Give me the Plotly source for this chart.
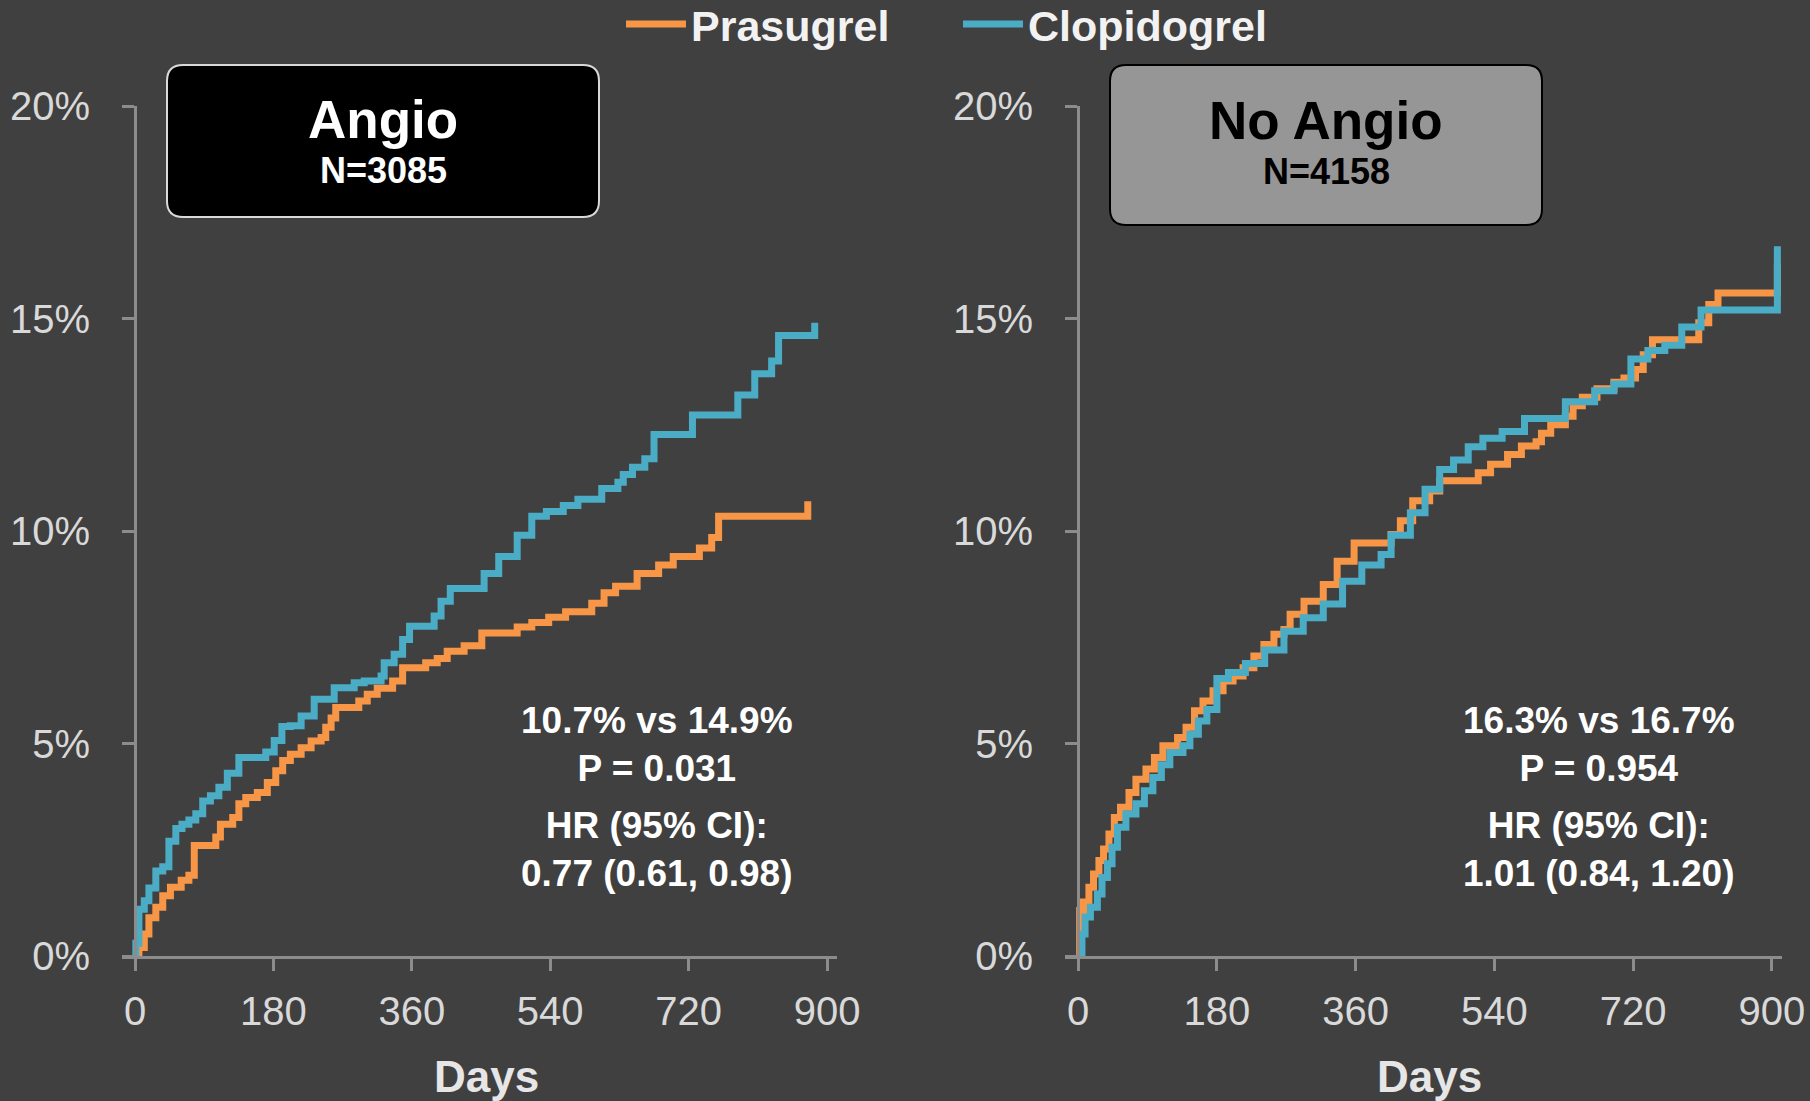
import plotly.graph_objects as go

# ---------------- data ----------------
x_ticks = [0, 180, 360, 540, 720, 900]
y_ticks = [0, 5, 10, 15, 20]
y_ticklabels = ["0%", "5%", "10%", "15%", "20%"]

# Angio panel
angio_pras_days = [0, 5, 12, 18, 27, 36, 46, 60, 70, 77, 105, 111, 127, 135, 144, 159, 172, 183, 192, 202,
                   216, 229, 242, 248, 255, 261, 291, 302, 315, 335, 348, 378, 393, 406, 428, 451, 497, 516,
                   538, 560, 594, 610, 625, 653, 681, 700, 734, 750, 759, 875]
angio_pras_pct = [0, 0.2, 0.52, 0.9, 1.15, 1.42, 1.62, 1.78, 1.9, 2.6, 2.8, 3.1, 3.26, 3.58, 3.73, 3.85, 4.08,
                  4.36, 4.6, 4.75, 4.9, 5.06, 5.14, 5.38, 5.6, 5.85, 6.0, 6.16, 6.3, 6.47, 6.78, 6.9, 7.0, 7.17,
                  7.3, 7.6, 7.74, 7.85, 7.97, 8.1, 8.3, 8.55, 8.7, 9.0, 9.2, 9.4, 9.6, 9.85, 10.35, 10.7]

angio_clop_days = [0, 1, 5, 12, 18, 27, 36, 44, 53, 61, 70, 79, 88, 98, 109, 120, 135, 170, 181, 191, 202,
                   216, 233, 259, 285, 298, 320, 324, 337, 348, 357, 389, 398, 410, 454, 473, 497, 516, 535,
                   557, 576, 607, 628, 635, 647, 663, 675, 725, 784, 806, 828, 837, 884]
angio_clop_pct = [0, 0.3, 1.1, 1.3, 1.6, 2.0, 2.1, 2.7, 3.0, 3.1, 3.2, 3.35, 3.65, 3.77, 3.97, 4.3, 4.67, 4.8,
                  5.07, 5.4, 5.42, 5.65, 6.04, 6.31, 6.43, 6.47, 6.59, 6.9, 7.1, 7.45, 7.76, 8.0, 8.35, 8.65,
                  9.0, 9.4, 9.9, 10.35, 10.46, 10.6, 10.75, 11.0, 11.15, 11.33, 11.5, 11.7, 12.27, 12.73, 13.2,
                  13.7, 14.0, 14.6, 14.9]

# No Angio panel
noangio_pras_days = [0, 2, 7, 14, 20, 27, 33, 40, 47, 55, 66, 75, 88, 99, 110, 129, 140, 151, 162, 175, 188,
                     201, 214, 228, 241, 254, 267, 275, 293, 318, 336, 358, 406, 418, 434, 456, 469, 519, 535,
                     557, 575, 594, 601, 613, 632, 642, 654, 673, 695, 708, 723, 733, 745, 805, 818, 830, 907]
noangio_pras_pct = [0, 1.07, 1.27, 1.62, 1.93, 2.25, 2.52, 2.87, 3.26, 3.5, 3.85, 4.16, 4.4, 4.67, 4.95, 5.14,
                    5.38, 5.77, 6.0, 6.24, 6.47, 6.59, 6.78, 7.06, 7.33, 7.57, 7.68, 8.04, 8.35, 8.74, 9.29,
                    9.72, 9.92, 10.24, 10.71, 10.94, 11.18, 11.37, 11.57, 11.8, 12.0, 12.1, 12.3, 12.5, 12.7,
                    12.95, 13.15, 13.35, 13.5, 13.6, 13.8, 14.15, 14.5, 14.9, 15.33, 15.6, 16.3]

noangio_clop_days = [0, 5, 9, 16, 25, 31, 38, 44, 51, 62, 75, 86, 97, 108, 119, 136, 145, 156, 167, 180, 195,
                     217, 242, 267, 292, 318, 343, 368, 393, 406, 431, 450, 469, 487, 506, 525, 550, 579, 632,
                     670, 695, 717, 739, 761, 783, 808, 907]
noangio_clop_pct = [0, 0.52, 0.92, 1.15, 1.46, 1.85, 2.17, 2.56, 3.03, 3.34, 3.58, 3.89, 4.2, 4.5, 4.79, 4.95,
                    5.22, 5.53, 5.8, 6.53, 6.67, 6.88, 7.2, 7.64, 7.96, 8.28, 8.82, 9.2, 9.45, 9.9, 10.43,
                    10.98, 11.45, 11.67, 11.98, 12.18, 12.34, 12.65, 13.04, 13.3, 13.46, 14.05, 14.25, 14.37,
                    14.8, 15.2, 16.7]

panel_titles = ["Angio", "No Angio"]
panel_n = ["N=3085", "N=4158"]
stats_top = ["10.7% vs 14.9%<br>P = 0.031", "16.3% vs 16.7%<br>P = 0.954"]
stats_hr = ["HR (95% CI):<br>0.77 (0.61, 0.98)", "HR (95% CI):<br>1.01 (0.84, 1.20)"]
series_names = ["Prasugrel", "Clopidogrel"]

# ---------------- style ----------------
W, H = 1810, 1101
BG = "#404040"
ORANGE = "#F79646"
BLUE = "#4BACC6"
AXIS = "#8C8C8C"
TICKTXT = "#D9D9D9"
FONT = "Liberation Sans, Arial, Helvetica, sans-serif"
XR = [-17, 913]
YR = [0, 20]
LINE_W = 7

def px_x(x):
    return x / W

def px_y(y):
    return 1 - y / H

dom_x = [[px_x(122), px_x(837)], [px_x(1065), px_x(1782)]]
dom_y = [px_y(956), px_y(106)]

fig = go.Figure()

data = [
    [(angio_pras_days, angio_pras_pct), (angio_clop_days, angio_clop_pct)],
    [(noangio_pras_days, noangio_pras_pct), (noangio_clop_days, noangio_clop_pct)],
]
colors = [ORANGE, BLUE]

for p in range(2):
    xa = "x" if p == 0 else "x2"
    ya = "y" if p == 0 else "y2"
    for s in range(2):
        d, v = data[p][s]
        fig.add_trace(go.Scatter(
            x=d, y=v, mode="lines", line=dict(color=colors[s], width=LINE_W, shape="hv"),
            name=series_names[s], showlegend=(p == 0), xaxis=xa, yaxis=ya,
            hoverinfo="skip"))

def xaxis_cfg(p):
    return dict(domain=dom_x[p], range=XR, showline=True, linecolor=AXIS, linewidth=3,
                ticks="outside", ticklen=12, tickwidth=3, tickcolor=AXIS,
                tickvals=x_ticks, ticktext=[str(t) for t in x_ticks],
                tickfont=dict(family=FONT, size=40, color=TICKTXT),
                ticklabelstandoff=6, automargin=False,
                showgrid=False, zeroline=False, anchor="y" if p == 0 else "y2", fixedrange=True)

def yaxis_cfg(p):
    pos = dom_x[p][0] + (0 - XR[0]) / (XR[1] - XR[0]) * (dom_x[p][1] - dom_x[p][0])
    return dict(domain=dom_y, range=YR, anchor="free", position=pos,
                showline=True, linecolor=AXIS, linewidth=3,
                ticks="outside", ticklen=12, tickwidth=3, tickcolor=AXIS,
                tickvals=y_ticks, ticktext=y_ticklabels,
                tickfont=dict(family=FONT, size=40, color=TICKTXT),
                ticklabelstandoff=24, automargin=False,
                showgrid=False, zeroline=False, fixedrange=True)

def rounded_path(x0, y0, x1, y1, r):
    rx, ry = r / W, r / H
    X0, X1 = px_x(x0), px_x(x1)
    Y0, Y1 = px_y(y0), px_y(y1)  # Y0 top, Y1 bottom
    return (f"M {X0+rx},{Y0} L {X1-rx},{Y0} Q {X1},{Y0} {X1},{Y0-ry} "
            f"L {X1},{Y1+ry} Q {X1},{Y1} {X1-rx},{Y1} "
            f"L {X0+rx},{Y1} Q {X0},{Y1} {X0},{Y1+ry} "
            f"L {X0},{Y0-ry} Q {X0},{Y0} {X0+rx},{Y0} Z")

boxes = [
    dict(x0=167, y0=65, x1=599, y1=217, fill="#000000", border="#D9D9D9", text="#FFFFFF"),
    dict(x0=1110, y0=65, x1=1542, y1=225, fill="#969696", border="#000000", text="#000000"),
]

shapes = []
annotations = []
for p, b in enumerate(boxes):
    shapes.append(dict(type="path", xref="paper", yref="paper",
                       path=rounded_path(b["x0"], b["y0"], b["x1"], b["y1"], 16),
                       fillcolor=b["fill"], line=dict(color=b["border"], width=2), layer="above"))
    cx = (b["x0"] + b["x1"]) / 2
    annotations.append(dict(text=f"<b>{panel_titles[p]}</b>", x=px_x(cx), y=px_y(120 if p else 119),
                            xref="paper", yref="paper", showarrow=False, xanchor="center", yanchor="middle",
                            font=dict(family=FONT, size=53, color=b["text"])))
    annotations.append(dict(text=f"<b>{panel_n[p]}</b>", x=px_x(cx), y=px_y(172 if p else 171),
                            xref="paper", yref="paper", showarrow=False, xanchor="center", yanchor="middle",
                            font=dict(family=FONT, size=36, color=b["text"])))

stat_cx = [657, 1599]
for p in range(2):
    annotations.append(dict(text=f"<b>{stats_top[p]}</b>", x=px_x(stat_cx[p]), y=px_y(744),
                            xref="paper", yref="paper", showarrow=False, xanchor="center", yanchor="middle",
                            align="center", font=dict(family=FONT, size=37, color="#FFFFFF")))
    annotations.append(dict(text=f"<b>{stats_hr[p]}</b>", x=px_x(stat_cx[p]), y=px_y(849),
                            xref="paper", yref="paper", showarrow=False, xanchor="center", yanchor="middle",
                            align="center", font=dict(family=FONT, size=37, color="#FFFFFF")))

days_cx = [486, 1429]
for p in range(2):
    annotations.append(dict(text="<b>Days</b>", x=px_x(days_cx[p]), y=px_y(1076),
                            xref="paper", yref="paper", showarrow=False, xanchor="center", yanchor="middle",
                            font=dict(family=FONT, size=44, color="#E6E6E6")))

fig.update_layout(
    width=W, height=H, autosize=False,
    margin=dict(l=0, r=0, t=0, b=0, pad=0, autoexpand=False),
    paper_bgcolor=BG, plot_bgcolor=BG,
    xaxis=xaxis_cfg(0), yaxis=yaxis_cfg(0),
    xaxis2=xaxis_cfg(1), yaxis2=yaxis_cfg(1),
    shapes=shapes, annotations=annotations,
    legend=dict(orientation="h", xref="container", yref="container",
                x=px_x(621), y=px_y(24), xanchor="left", yanchor="middle",
                bgcolor="rgba(0,0,0,0)", font=dict(family=FONT, size=43, color="#F2F2F2", weight="bold"),
                itemwidth=60, entrywidth=262, entrywidthmode="pixels", traceorder="normal"),
    showlegend=True,
)

fig.write_html("out.html", config={"displayModeBar": False, "staticPlot": True},
               post_script="document.body.style.margin='0';document.body.style.overflow='hidden';")
